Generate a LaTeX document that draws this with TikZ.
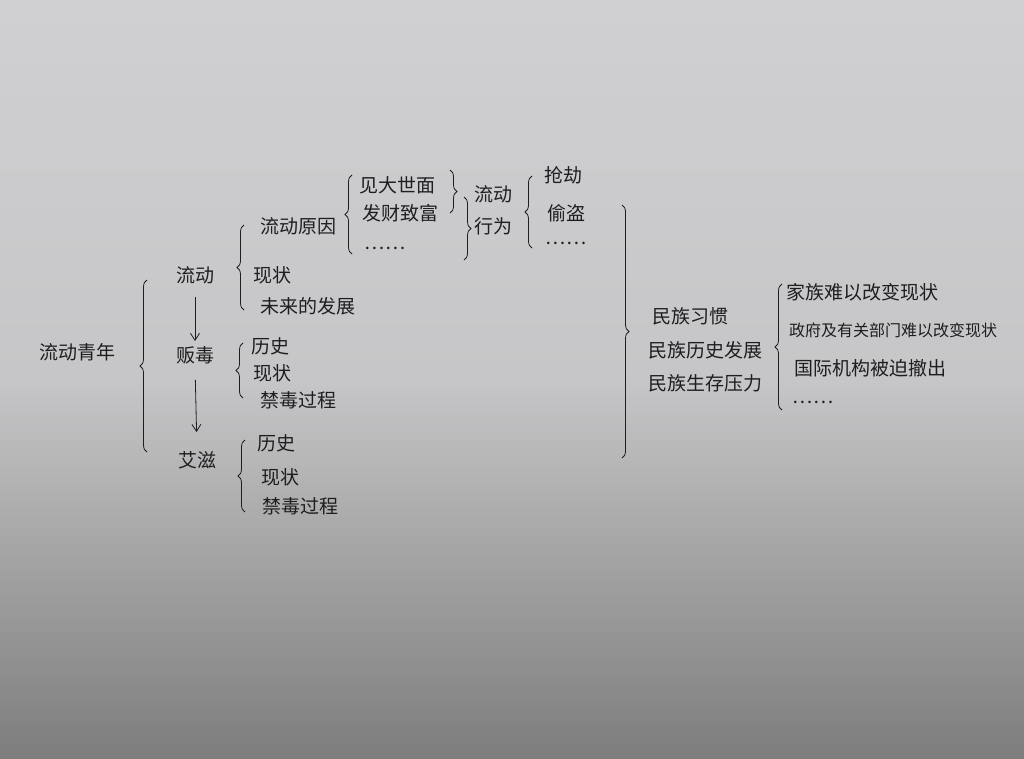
\documentclass[tikz,border=0pt]{standalone}
\usepackage{fontspec}
\newfontfamily\cjk{Noto Sans CJK SC}
\usetikzlibrary{arrows.meta,decorations.pathreplacing}
\definecolor{ink}{RGB}{30,30,32}
\definecolor{papertop}{RGB}{208,208,210}
\definecolor{paperbot}{RGB}{125,125,125}
\tikzset{
	txt/.style={font=\cjk\fontsize{19}{22}\selectfont, inner sep=1pt, text=ink},
	small/.style={txt, font=\cjk\fontsize{16}{19}\selectfont},
	lbrace/.style={draw=ink, thick, decorate, decoration={brace, amplitude=7pt}},
	rbrace/.style={draw=ink, thick, decorate, decoration={brace, amplitude=7pt}},
	flow/.style={draw=ink, thick, -{Straight Barb[length=7pt, width=9pt]}}
}

\begin{document}
\begin{tikzpicture}[x=1pt, y=-1pt]
	\shade[top color=papertop, bottom color=paperbot, middle color=papertop!88!paperbot] (0,0) rectangle (1024,759);
	\useasboundingbox (0,0) rectangle (1024,759);
	% root
	\node[txt] (root) at (77,352) {流动青年};
	\draw[lbrace] (147,452) -- (147,280);
	\node[txt] (liudong) at (195,275) {流动};
	\node[txt] (fandu) at (195,355) {贩毒};
	\node[txt] (aizi) at (197,460) {艾滋};
	\draw[flow, shorten <=12pt, shorten >=4pt] (liudong.south) -- (fandu.north);
	\draw[flow, shorten <=15pt, shorten >=18pt] (fandu.south) -- (aizi.north);
	% liudong
	\draw[lbrace] (244,310) -- (244,225);
	\node[txt] (yuanyin) at (298,226) {流动原因};
	\node[txt] (xz1) at (272,275) {现状};
	\node[txt] (weilai) at (308,306) {未来的发展};
	\draw[lbrace] (352,254) -- (352,175);
	\node[txt] (shimian) at (397,185) {见大世面};
	\node[txt] (facai) at (400,213) {发财致富};
	\node[txt] (dots1) at (385,248) {……};
	\draw[rbrace] (450,170) -- (450,213);
	\draw[rbrace] (464,197) -- (464,260);
	\node[txt, align=center] (xingwei) at (493,210) {流动\\[10pt]行为};
	\draw[lbrace] (532,248) -- (532,176);
	\node[txt] (qiangjie) at (563,175) {抢劫};
	\node[txt] (toudao) at (566,213) {偷盗};
	\node[txt] (dots2) at (566,243) {……};
	% fandu
	\draw[lbrace] (243,398) -- (243,343);
	\node[txt] (ls1) at (270,346) {历史};
	\node[txt] (xz2) at (272,373) {现状};
	\node[txt] (jindu1) at (298,400) {禁毒过程};
	% aizi
	\draw[lbrace] (245,512) -- (245,440);
	\node[txt] (ls2) at (276,443) {历史};
	\node[txt] (xz3) at (280,477) {现状};
	\node[txt] (jindu2) at (300,506) {禁毒过程};
	% causes
	\draw[rbrace] (622,205) -- (622,458);
	\node[txt] (xiguan) at (690,316) {民族习惯};
	\node[txt] (lishi) at (705,350) {民族历史发展};
	\node[txt] (yali) at (705,383) {民族生存压力};
	\draw[lbrace] (782,410) -- (782,284);
	\node[txt] (jiazu) at (862,292) {家族难以改变现状};
	\node[small] (zhengfu) at (893,330) {政府及有关部门难以改变现状};
	\node[txt] (guoji) at (870,368) {国际机构被迫撤出};
	\node[txt] (dots3) at (813,402) {……};
\end{tikzpicture}
\end{document}
